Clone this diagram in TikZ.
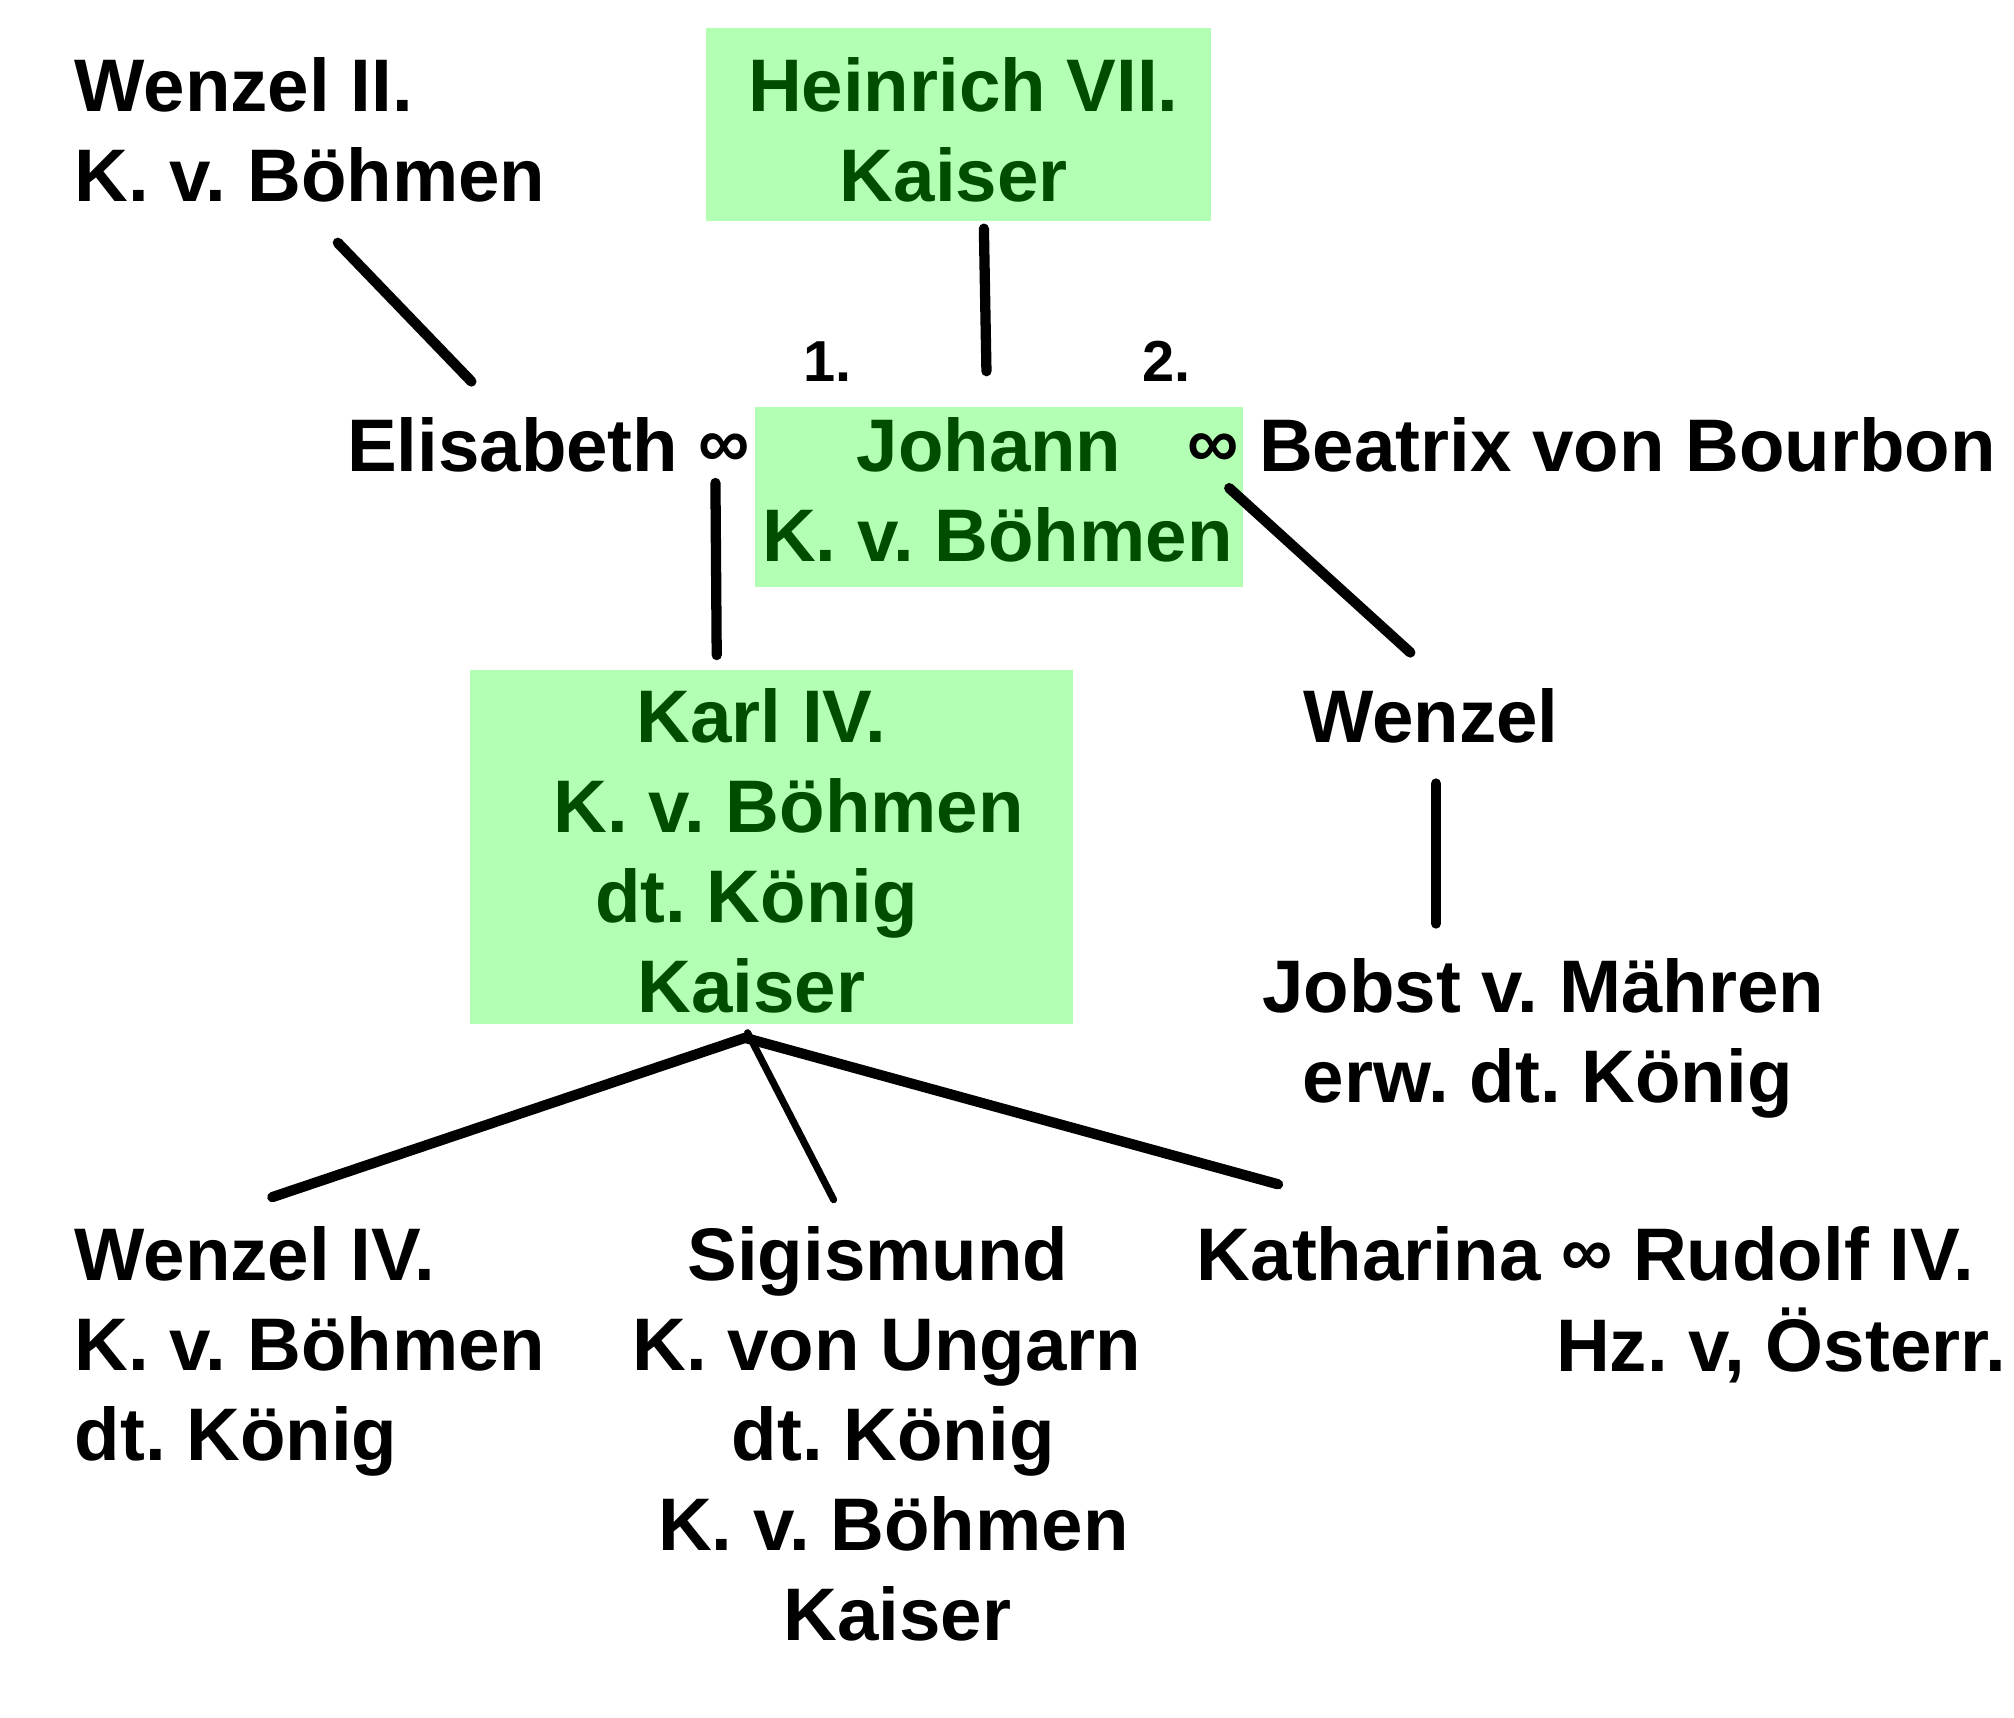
\documentclass[tikz,border=0pt]{standalone}
\usepackage{fontspec}
\setmainfont{Liberation Sans}
\frenchspacing
\definecolor{boxgreen}{RGB}{179,255,179}
\definecolor{textgreen}{RGB}{0,77,0}
\newcommand{\mar}{\raisebox{3pt}{\fontsize{56}{56}\selectfont ∞}}
\begin{document}
\begin{tikzpicture}[x=1pt,y=-1pt,
  txt/.style={font=\fontsize{58}{70}\selectfont\bfseries\frenchspacing, inner sep=0pt, anchor=base},
  smalltxt/.style={font=\fontsize{45}{50}\selectfont\bfseries, inner sep=0pt, anchor=base},
  gtxt/.style={txt, text=textgreen},
  gbox/.style={fill=boxgreen, draw=none},
  link/.style={line width=8pt, line cap=round, black},
  thinlink/.style={line width=5.5pt, line cap=round, black}]
\useasboundingbox (0,0) rectangle (1568,1336.8);
% boxes
\path[gbox] (550,22) rectangle (943,172);
\path[gbox] (587.5,316.6) rectangle (967.8,456.8);
\path[gbox] (366,522) rectangle (835,797);
% texts
\node[txt, anchor=base west] (wenzelII) at (58,87) {\begin{tabular}[t]{@{}l@{}}Wenzel II.\\K. v. Böhmen\end{tabular}};
\node[gtxt] (heinrich) at (750,87) {\begin{tabular}[t]{@{}c@{}}Heinrich VII.\\Kaiser\hspace*{15pt}\end{tabular}};
\node[smalltxt] (one) at (644,297) {1.};
\node[smalltxt] (two) at (908,297) {2.};
\node[txt, anchor=base west] (elisabeth) at (270,367) {Elisabeth \mar};
\node[gtxt] (johann) at (776.5,367) {\begin{tabular}[t]{@{}c@{}}Johann\hspace*{13pt}\\K. v. Böhmen\end{tabular}};
\node[txt, anchor=base west] (beatrix) at (924,367) {\mar\ Beatrix von Bourbon};
\node[gtxt] (karl) at (614,578) {\begin{tabular}[t]{@{}c@{}}Karl IV.\hspace*{42pt}\\K. v. Böhmen\\dt. König\hspace*{50pt}\\Kaiser\hspace*{58pt}\end{tabular}};
\node[txt] (wenzel) at (1114,578) {Wenzel};
\node[txt] (jobst) at (1201.5,788) {\begin{tabular}[t]{@{}c@{}}Jobst v. Mähren\\\hspace*{7pt}erw. dt. König\end{tabular}};
\node[txt, anchor=base west] (wenzelIV) at (58,997) {\begin{tabular}[t]{@{}l@{}}Wenzel IV.\\K. v. Böhmen\\dt. König\end{tabular}};
\node[txt] (sigismund) at (690.5,997) {\begin{tabular}[t]{@{}c@{}}Sigismund\hspace*{14pt}\\K. von Ungarn\\\hspace*{10pt}dt. König\\\hspace*{10pt}K. v. Böhmen\\\hspace*{16pt}Kaiser\end{tabular}};
\node[txt, anchor=base east] (katharina) at (1562,997) {\begin{tabular}[t]{@{}r@{}}Katharina \mar\ Rudolf IV.\hspace*{25pt}\\Hz. v, Österr.\end{tabular}};
% connector end points
\coordinate (w2a) at (263,189);   \coordinate (w2b) at (367,297);
\coordinate (h7a) at (766,178);   \coordinate (h7b) at (768,289);
\coordinate (ela) at (557,376);   \coordinate (elb) at (558,510);
\coordinate (bea) at (957,380);   \coordinate (beb) at (1098,508);
\coordinate (wza) at (1118,610);  \coordinate (wzb) at (1118,719);
\coordinate (k4) at (580,808);
\coordinate (w4) at (212,932);
\coordinate (sg) at (649,934);
\coordinate (kt) at (995,922);
% connectors
\draw[link] (w2a) -- (w2b);
\draw[link] (h7a) -- (h7b);
\draw[link] (ela) -- (elb);
\draw[link] (bea) -- (beb);
\draw[link] (wza) -- (wzb);
\draw[link] (k4) -- (w4);
\draw[thinlink] ([xshift=2pt,yshift=4pt]k4) -- (sg);
\draw[link] (k4) -- (kt);
\end{tikzpicture}
\end{document}
